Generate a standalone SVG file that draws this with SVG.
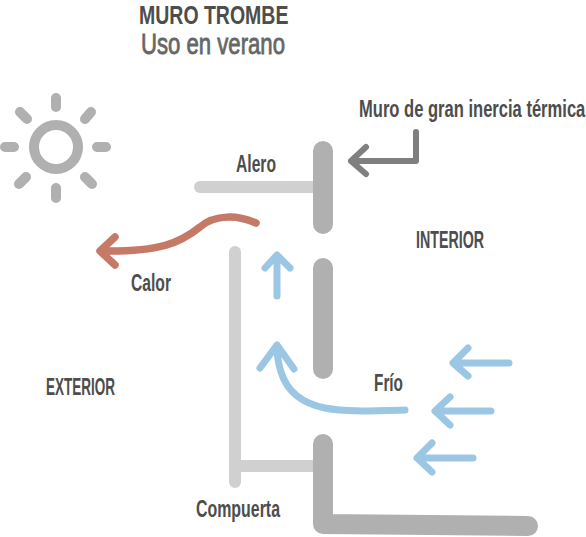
<svg xmlns="http://www.w3.org/2000/svg" width="586" height="537" viewBox="0 0 586 537">
<style>
text{font-family:"Liberation Sans",Arial,sans-serif;fill:#4d4d4d;font-size:23px;font-weight:700}
.t{font-size:26px}
.s{font-size:29px;fill:#666;font-weight:400;stroke:#666;stroke-width:.8px}
.l{fill:none;stroke-linecap:round;stroke-linejoin:round}
.wall{stroke:#b0b0b0;stroke-width:20}
.light{stroke:#d0d0d0;stroke-width:12}
.sun{stroke:#b0b0b0;stroke-width:10}
.blue{stroke:#9bc7e4;stroke-width:7}
.red{stroke:#c47a66;stroke-width:7.5}
.grey{stroke:#7f7f7f;stroke-width:6}
</style>
<g id="title">
<text class="t" transform="translate(139 23.6) scale(.75 1)">MURO TROMBE</text>
<text class="s" x="141" y="54" textLength="144" lengthAdjust="spacingAndGlyphs">Uso en verano</text>
</g>
<g id="sun" class="l sun">
<circle cx="56" cy="147" r="22"/>
<path d="M56 98V107M56 188V198M5 147H14M97 147H106M20 112L27 119M91 112L85 119M26 177L19 184M85 177L92 184"/>
</g>
<g id="alero">
<path class="l light" d="M200 187H318"/>
<text x="236" y="172" textLength="40" lengthAdjust="spacingAndGlyphs">Alero</text>
</g>
<g id="compuerta">
<path class="l light" d="M235 252V482M235 466H318"/>
<text x="196" y="517" textLength="84" lengthAdjust="spacingAndGlyphs">Compuerta</text>
</g>
<g id="muro">
<path class="l wall" d="M323 151V224M323 268V369M323 444V524L528 526"/>
<text transform="translate(359 117) scale(.72 1)">Muro de gran inercia térmica</text>
</g>
<g id="interior"><text x="416" y="248" textLength="68" lengthAdjust="spacingAndGlyphs">INTERIOR</text></g>
<g id="exterior"><text x="46" y="395" textLength="69" lengthAdjust="spacingAndGlyphs">EXTERIOR</text></g>
<g id="calor"><text x="131" y="291" textLength="40" lengthAdjust="spacingAndGlyphs">Calor</text></g>
<g id="frio"><text x="374" y="391" textLength="29" lengthAdjust="spacingAndGlyphs">Frío</text></g>
<g id="connectors" class="l">
<path class="red" d="M256 223C238 215 215 214 200 227C180 243 160 252 101 251M115 237L100 251L115 265"/>
<path class="grey" d="M416 132V161H351M366 147L351 161L366 174"/>
<path class="blue" d="M277 296V256M265 268L277 255L290 268"/>
<path class="blue" d="M405 410C370 411 345 412 325 408C295 402 285 385 281 372C278 362 277 355 277 348M260 368L277 345L294 369"/>
<path class="blue" d="M509 363H454M468 348L453 363L468 376"/>
<path class="blue" d="M491 411H436M450 397L435 411L450 425"/>
<path class="blue" d="M473 458H418M432 443L417 458L432 472"/>
</g>
</svg>
